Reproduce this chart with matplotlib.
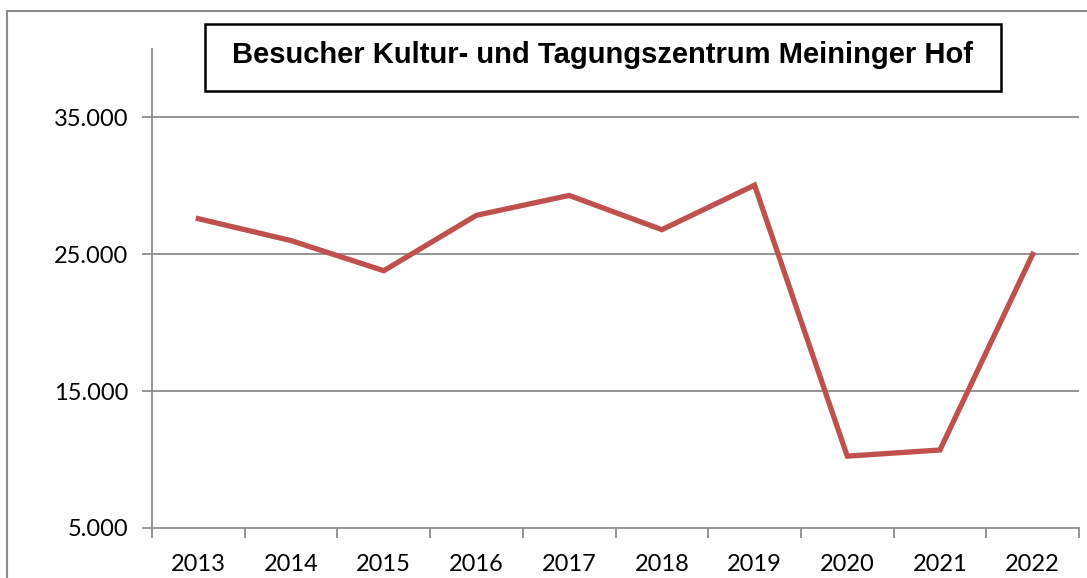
import matplotlib
matplotlib.use("Agg")
import matplotlib.pyplot as plt
from matplotlib.patches import Rectangle

years = ["2013", "2014", "2015", "2016", "2017", "2018", "2019", "2020", "2021", "2022"]
visitors = [27600, 26000, 23800, 27850, 29300, 26800, 30050, 10250, 10700, 25000]
yticks = [5000, 15000, 25000, 35000]
ytick_labels = ["5.000", "15.000", "25.000", "35.000"]
title = "Besucher Kultur- und Tagungszentrum Meininger Hof"

W, H = 1087, 578
fig = plt.figure(figsize=(W / 100, H / 100), dpi=100)
fig.patch.set_facecolor("white")

# outer chart border (extends beyond crop on right/bottom)
fig.patches.append(Rectangle((7 / W, -0.05), 1.1, 1 - 11 / H + 0.05, transform=fig.transFigure,
                             fill=False, edgecolor="#8c8c8c", linewidth=1.5))

ax_l, ax_r, ax_t, ax_b = 152, 1079, 49, 528
ax = fig.add_axes([ax_l / W, 1 - ax_b / H, (ax_r - ax_l) / W, (ax_b - ax_t) / H])

x = list(range(len(years)))
ax.plot(x, visitors, color="#C0504D", linewidth=3.8, solid_joinstyle="miter", zorder=3)

ax.set_xlim(-0.5, len(years) - 0.5)
ax.set_ylim(5000, 40000)

grid_col = "#8c8c8c"
for v in yticks[1:]:
    ax.axhline(v, color=grid_col, linewidth=1.3, zorder=1)

for s in ["top", "right"]:
    ax.spines[s].set_visible(False)
ax.spines["left"].set_color(grid_col)
ax.spines["bottom"].set_color(grid_col)
ax.spines["left"].set_linewidth(1.3)
ax.spines["bottom"].set_linewidth(1.3)

ax.set_yticks(yticks)
ax.set_yticklabels(ytick_labels, fontsize=17, family="Lato")
ax.set_xticks([i + 0.5 for i in range(-1, len(years))], minor=False)
ax.set_xticklabels([])
ax.set_xticks(x, minor=True)
ax.set_xticklabels(years, minor=True, fontsize=17, family="Lato")
ax.tick_params(axis="x", which="major", length=7, width=1.3, color=grid_col, direction="out")
ax.tick_params(axis="x", which="minor", length=0, pad=19)
ax.tick_params(axis="y", length=7, width=1.3, color=grid_col, pad=10)

# title box
bx0, bx1, by0, by1 = 205, 1001, 24, 91
fig.patches.append(Rectangle((bx0 / W, 1 - by1 / H), (bx1 - bx0) / W, (by1 - by0) / H,
                             transform=fig.transFigure, facecolor="white", edgecolor="black",
                             linewidth=1.8, zorder=5))
fig.text((bx0 + bx1) / 2 / W, 1 - 55 / H, title, ha="center", va="center",
         fontsize=21, fontweight="bold", family="Liberation Sans", zorder=6)

fig.savefig("out.png", dpi=100)
